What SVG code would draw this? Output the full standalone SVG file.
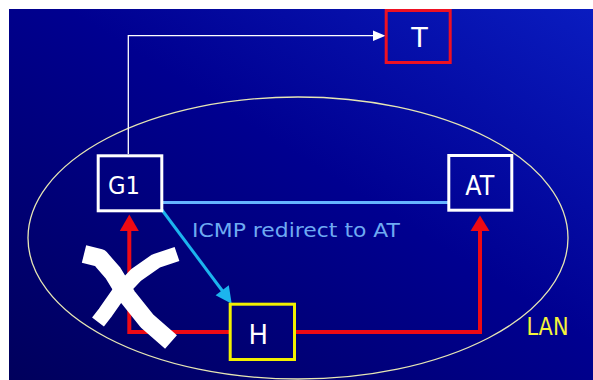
<svg xmlns="http://www.w3.org/2000/svg" width="593" height="380" viewBox="0 0 593 380">
  <defs>
    <linearGradient id="bg" x1="0" y1="1" x2="1" y2="0">
      <stop offset="0" stop-color="#00005c"/>
      <stop offset="0.55" stop-color="#000090"/>
      <stop offset="1" stop-color="#0a1cc0"/>
    </linearGradient>
    <style>
      .lbl { font-family: "DejaVu Sans", "Verdana", sans-serif; fill: #ffffff; text-anchor: middle; }
      .box { fill: none; stroke-width: 3; }
    </style>
  </defs>
  <rect x="0" y="0" width="593" height="380" fill="#ffffff"/>
  <rect x="9" y="9" width="584" height="371" fill="url(#bg)"/>

  <!-- LAN ellipse -->
  <ellipse cx="298" cy="238" rx="270" ry="141" fill="none" stroke="#e6e6b4" stroke-width="1.3"/>

  <g id="connectors">
    <!-- G1 to T (white) -->
    <polyline points="128.3,154 128.3,35.7 375,35.7" fill="none" stroke="#ffffff" stroke-width="1.3"/>
    <polygon points="373,30.5 385.5,35.7 373,41" fill="#ffffff"/>
    <!-- G1 to AT (light blue) -->
    <line x1="163" y1="202.5" x2="448" y2="202.5" stroke="#66b4ff" stroke-width="3"/>
    <!-- ICMP redirect arrow -->
    <line x1="162" y1="210" x2="222.5" y2="291" stroke="#1cb4ee" stroke-width="3"/>
    <polygon points="231.7,303.8 228.8,285.3 215.6,295.2" fill="#1cb4ee"/>
    <!-- red path H to G1 -->
    <polyline points="229,332 129.3,332 129.3,229" fill="none" stroke="#ee0a14" stroke-width="4"/>
    <polygon points="129.3,214.5 119.8,231 138.8,231" fill="#ee0a14"/>
    <!-- red path H to AT -->
    <polyline points="296,332 480,332 480,229" fill="none" stroke="#ee0a14" stroke-width="4"/>
    <polygon points="480,215.5 470.5,231 489.5,231" fill="#ee0a14"/>
    <text x="296" y="237" font-family="DejaVu Sans, Verdana, sans-serif" font-size="20" fill="#6eaaf2" text-anchor="middle" textLength="208" lengthAdjust="spacingAndGlyphs">ICMP redirect to AT</text>
  </g>

  <g id="T">
    <rect class="box" x="386.2" y="10.5" width="64" height="52" stroke="#ee1122"/>
    <text class="lbl" x="419.5" y="47" font-size="27">T</text>
  </g>
  <g id="G1">
    <rect class="box" x="98.2" y="155.8" width="63.6" height="55" stroke="#ffffff"/>
    <text class="lbl" x="124" y="194.3" font-size="25" textLength="32" lengthAdjust="spacingAndGlyphs">G1</text>
  </g>
  <g id="AT">
    <rect class="box" x="448.8" y="155.5" width="63" height="54.7" stroke="#ffffff"/>
    <text class="lbl" x="479.7" y="195" font-size="26" textLength="29" lengthAdjust="spacingAndGlyphs">AT</text>
  </g>
  <g id="H">
    <rect class="box" x="230.2" y="304.2" width="64.3" height="55.3" stroke="#f2f000"/>
    <text class="lbl" x="258.3" y="344" font-size="26">H</text>
  </g>
  <g id="LAN">
    <text x="547.5" y="335" font-family="DejaVu Sans, Verdana, sans-serif" font-size="25" fill="#f4f43a" text-anchor="middle" textLength="42" lengthAdjust="spacingAndGlyphs">LAN</text>
  </g>

  <!-- big white cross -->
  <g id="cross" fill="none" stroke="#ffffff" stroke-linejoin="round">
    <polyline points="84,254 100,258 113,273 127,296 147,321 171,342" stroke-width="18"/>
    <polyline points="177,254 156,261 136,275 119,293 105,313 98,322" stroke-width="15"/>
  </g>
</svg>
